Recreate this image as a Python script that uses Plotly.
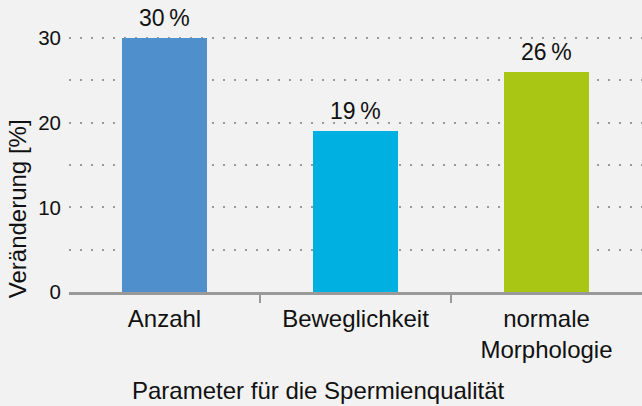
import plotly.graph_objects as go

categories = ["Anzahl", "Beweglichkeit", "normale<br>Morphologie"]
values = [30, 19, 26]
labels = ["30\u202f%", "19\u202f%", "26\u202f%"]
colors = ["#4F8FCC", "#00B0E0", "#AAC614"]
y_ticks = [0, 10, 20, 30]
x_title = "Parameter für die Spermienqualität"
y_title = "Veränderung [%]"

FONT = "Liberation Sans, Arial, sans-serif"
GRID = "#999999"

fig = go.Figure()
fig.add_trace(go.Bar(
    x=categories, y=values, marker=dict(color=colors, line=dict(width=0)),
    width=0.44, showlegend=False, hoverinfo="skip",
))
# invisible trace on overlay axis for boundary ticks
fig.add_trace(go.Scatter(x=[-0.5, 2.5], y=[0, 0], xaxis="x2", mode="markers",
                         marker=dict(opacity=0), showlegend=False, hoverinfo="skip"))

bar_annotations = [
    dict(x=c, y=v, xref="x", yref="y", text=t, showarrow=False,
         xanchor="center", yanchor="bottom", yshift=5,
         font=dict(size=23, color="#111111", family=FONT))
    for c, v, t in zip(categories, values, labels)
]

fig.update_layout(
    width=642, height=406,
    margin=dict(l=69, r=0, t=36, b=114, autoexpand=False),
    paper_bgcolor="#f2f2f2", plot_bgcolor="#f2f2f2",
    font=dict(family=FONT, color="#111111"),
    bargap=0,
    xaxis=dict(
        type="category", range=[-0.5, 2.5], showgrid=False, automargin=False,
        showline=True, linecolor=GRID, linewidth=2.5,
        ticks="", tickfont=dict(size=24, color="#111111"),
        ticklabelstandoff=3, zeroline=False,
    ),
    xaxis2=dict(
        overlaying="x", anchor="y", side="bottom", range=[-0.5, 2.5], automargin=False,
        tickvals=[0.5, 1.5], ticks="outside", ticklen=10, tickwidth=2,
        tickcolor=GRID, showticklabels=False, showgrid=False, showline=False,
        zeroline=False,
    ),
    yaxis=dict(
        range=[0, 30.25], tickvals=y_ticks, ticktext=[str(v) for v in y_ticks],
        automargin=False,
        showgrid=True, gridcolor=GRID, gridwidth=2, griddash="2px,9px",
        minor=dict(dtick=5, tick0=0, showgrid=True, gridcolor=GRID, gridwidth=2, griddash="2px,9px"),
        zeroline=False, showline=False, ticks="",
        tickfont=dict(size=20.5, color="#111111"), ticklabelstandoff=7,
    ),
    annotations=bar_annotations + [
        dict(text=x_title, xref="paper", yref="paper", x=0.436, y=-0.325,
             xanchor="center", yanchor="top", showarrow=False,
             font=dict(size=24, color="#111111", family=FONT)),
        dict(text=y_title, xref="paper", yref="paper", x=-0.09, y=0.325,
             xanchor="center", yanchor="middle", textangle=-90, showarrow=False,
             font=dict(size=24, color="#111111", family=FONT)),
    ],
)

fig.write_html("out.html", config={"displayModeBar": False},
               post_script="document.body.style.margin='0';")
